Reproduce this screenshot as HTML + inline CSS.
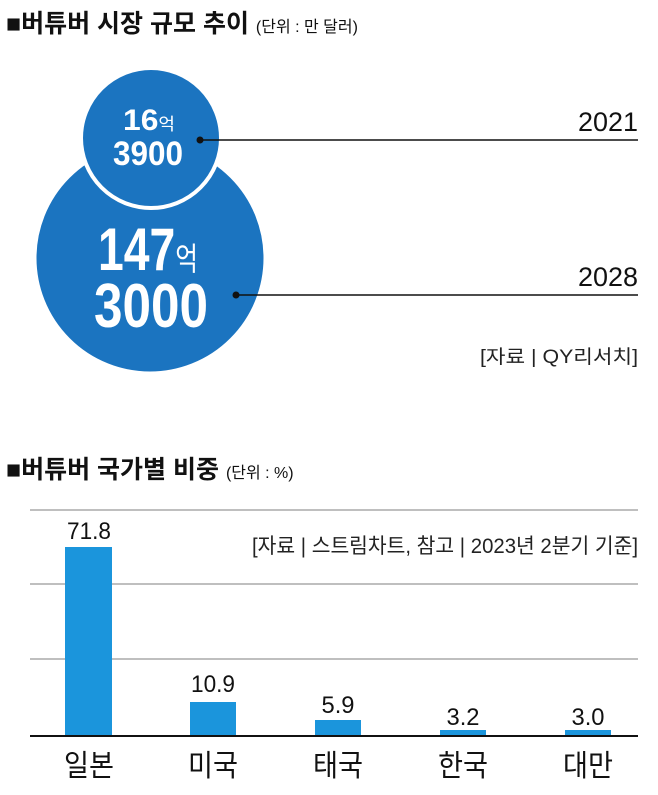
<!DOCTYPE html>
<html><head><meta charset="utf-8"><style>
body{margin:0;background:#fff;width:658px;height:790px;overflow:hidden;font-family:"Liberation Sans","Noto Sans CJK KR",sans-serif;}
</style></head><body>
<svg width="658" height="790" xmlns="http://www.w3.org/2000/svg" font-family="Liberation Sans, Noto Sans CJK KR, sans-serif">
<text x="6" y="32" font-size="25" font-weight="bold" fill="#111">■버튜버 시장 규모 추이 <tspan font-size="16" font-weight="normal">(단위 : 만 달러)</tspan></text>
<circle cx="150" cy="258" r="116" fill="#1b74c0" stroke="#fff" stroke-width="5"/>
<circle cx="151" cy="138" r="70" fill="#1b74c0" stroke="#fff" stroke-width="4"/>
<text x="149" y="130" text-anchor="middle" font-size="30" font-weight="bold" fill="#fff" textLength="52" lengthAdjust="spacingAndGlyphs">16<tspan font-size="17" font-weight="normal">억</tspan></text>
<text x="148" y="165" text-anchor="middle" font-size="34" font-weight="bold" fill="#fff" textLength="70" lengthAdjust="spacingAndGlyphs">3900</text>
<text x="148" y="270" text-anchor="middle" font-size="60" font-weight="bold" fill="#fff" textLength="100" lengthAdjust="spacingAndGlyphs">147<tspan font-size="32" font-weight="normal">억</tspan></text>
<text x="151" y="327" text-anchor="middle" font-size="62" font-weight="bold" fill="#fff" textLength="114" lengthAdjust="spacingAndGlyphs">3000</text>
<line x1="200" y1="140" x2="638" y2="140" stroke="#111" stroke-width="1.5"/>
<circle cx="200" cy="140" r="3.5" fill="#111"/>
<line x1="236" y1="295" x2="638" y2="295" stroke="#111" stroke-width="1.5"/>
<circle cx="236" cy="295" r="3.5" fill="#111"/>
<text x="638" y="131" text-anchor="end" font-size="27" fill="#111" textLength="60" lengthAdjust="spacingAndGlyphs">2021</text>
<text x="638" y="286" text-anchor="end" font-size="27" fill="#111" textLength="60" lengthAdjust="spacingAndGlyphs">2028</text>
<text x="638" y="363" text-anchor="end" font-size="19" fill="#222" textLength="158" lengthAdjust="spacingAndGlyphs">[자료 |  QY리서치]</text>
<text x="6" y="478" font-size="25" font-weight="bold" fill="#111">■버튜버 국가별 비중 <tspan font-size="16" font-weight="normal">(단위 : %)</tspan></text>
<g stroke="#999" stroke-width="1.2">
<line x1="30" y1="510" x2="638" y2="510"/><line x1="30" y1="584" x2="638" y2="584"/><line x1="30" y1="659" x2="638" y2="659"/>
</g>
<text x="638" y="553" text-anchor="end" font-size="21" fill="#222" textLength="386" lengthAdjust="spacingAndGlyphs">[자료 | 스트림차트, 참고 | 2023년 2분기  기준]</text>
<g fill="#1b95dc">
<rect x="65" y="547" width="47" height="189"/>
<rect x="190" y="702" width="46" height="34"/>
<rect x="315" y="720" width="46" height="16"/>
<rect x="440" y="730" width="46" height="6"/>
<rect x="565" y="730" width="46" height="6"/>
</g>
<line x1="30" y1="736" x2="638" y2="736" stroke="#111" stroke-width="2"/>
<g font-size="24" fill="#111" text-anchor="middle">
<text x="89" y="539" textLength="44" lengthAdjust="spacingAndGlyphs">71.8</text><text x="213" y="692" textLength="44" lengthAdjust="spacingAndGlyphs">10.9</text><text x="338" y="713" textLength="33" lengthAdjust="spacingAndGlyphs">5.9</text><text x="463" y="725" textLength="33" lengthAdjust="spacingAndGlyphs">3.2</text><text x="588" y="725" textLength="33" lengthAdjust="spacingAndGlyphs">3.0</text>
</g>
<g font-size="30" fill="#111" text-anchor="middle">
<text x="89" y="776" textLength="50" lengthAdjust="spacingAndGlyphs">일본</text><text x="213" y="776" textLength="50" lengthAdjust="spacingAndGlyphs">미국</text><text x="338" y="776" textLength="50" lengthAdjust="spacingAndGlyphs">태국</text><text x="463" y="776" textLength="50" lengthAdjust="spacingAndGlyphs">한국</text><text x="588" y="776" textLength="50" lengthAdjust="spacingAndGlyphs">대만</text>
</g>
</svg>
</body></html>
